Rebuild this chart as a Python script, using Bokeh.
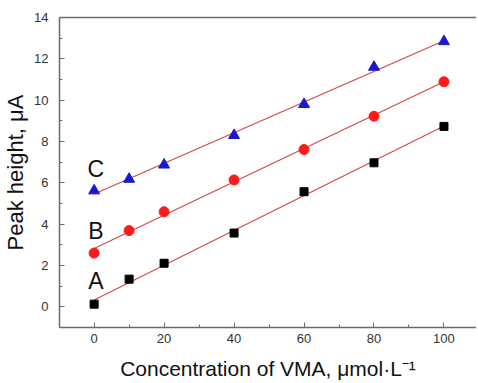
import numpy as np
from bokeh.plotting import figure
from bokeh.models import (LinearAxis, SingleIntervalTicker, FixedTicker, Range1d, Label)
from bokeh.embed import file_html
from bokeh.resources import INLINE

conc = [0, 10, 20, 40, 60, 80, 100]
series_a = [0.13, 1.34, 2.11, 3.57, 5.57, 6.97, 8.73]
series_b = [2.60, 3.69, 4.60, 6.14, 7.61, 9.22, 10.89]
series_c = [5.62, 6.18, 6.87, 8.30, 9.80, 11.60, 12.84]
series_names = ["A", "B", "C"]
label_y = [1.26, 3.68, 6.68]
label_x = 0.5

FONT = "Liberation Sans"

p = figure(width=476, height=383, output_backend="svg", toolbar_location=None,
           x_range=Range1d(-9.9, 109.3), y_range=Range1d(-1, 14),
           min_border_left=59, min_border_top=17, min_border_right=0, min_border_bottom=56,
           background_fill_color="white", border_fill_color="white")
p.outline_line_color = None
p.grid.visible = False

axis_color = "#6a6a6a"
for ax in (p.xaxis[0], p.yaxis[0]):
    ax.axis_line_color = axis_color
    ax.axis_line_width = 1.5
    ax.major_tick_line_color = axis_color
    ax.minor_tick_line_color = axis_color
    ax.major_tick_in = 5
    ax.major_tick_out = 0
    ax.minor_tick_in = 3
    ax.minor_tick_out = 0
    ax.major_label_text_font = FONT
    ax.major_label_text_font_size = "13px"
    ax.major_label_text_color = "#333333"
    ax.axis_label_text_font = FONT
    ax.axis_label_text_font_style = "normal"
    ax.axis_label_text_font_size = "21px"
    ax.axis_label_text_color = "#111111"

p.xaxis[0].ticker = SingleIntervalTicker(interval=20, num_minor_ticks=2)
p.yaxis[0].ticker = SingleIntervalTicker(interval=2, num_minor_ticks=2)
p.xaxis[0].axis_label = "Concentration of VMA, μmol·L⁻¹"
p.yaxis[0].axis_label = "Peak height, μA"
p.yaxis[0].axis_label_text_font_size = "22px"
p.xaxis[0].major_label_standoff = 6
p.xaxis[0].axis_label_standoff = 11
p.yaxis[0].major_label_standoff = 11
p.yaxis[0].axis_label_standoff = 3

top = LinearAxis(ticker=FixedTicker(ticks=[]),
                 major_tick_in=0, major_tick_out=0, minor_tick_in=0, minor_tick_out=0,
                 axis_line_color=axis_color, axis_line_width=1.5)
p.add_layout(top, "above")

x = np.array(conc, dtype=float)
xs = [x.min(), x.max()]
for ys in (series_a, series_b, series_c):
    k, b = np.polyfit(x, np.array(ys), 1)
    p.line(xs, [k * xs[0] + b, k * xs[1] + b], line_color="#d04848", line_width=1.1)

p.scatter(conc, series_a, marker="square", size=8, fill_color="black", line_color="black")
p.scatter(conc, series_b, marker="circle", size=10, fill_color="#ff1a1a", line_color="#ff1a1a")
p.scatter(conc, series_c, marker="triangle", size=11, fill_color="#1a1acc", line_color="#1a1acc")

for name, ly in zip(series_names, label_y):
    p.add_layout(Label(x=label_x, y=ly, text=name, text_font=FONT, text_font_size="23px",
                       text_align="center", text_baseline="middle", text_color="#111111"))

open("out.html", "w").write(file_html(p, INLINE))
